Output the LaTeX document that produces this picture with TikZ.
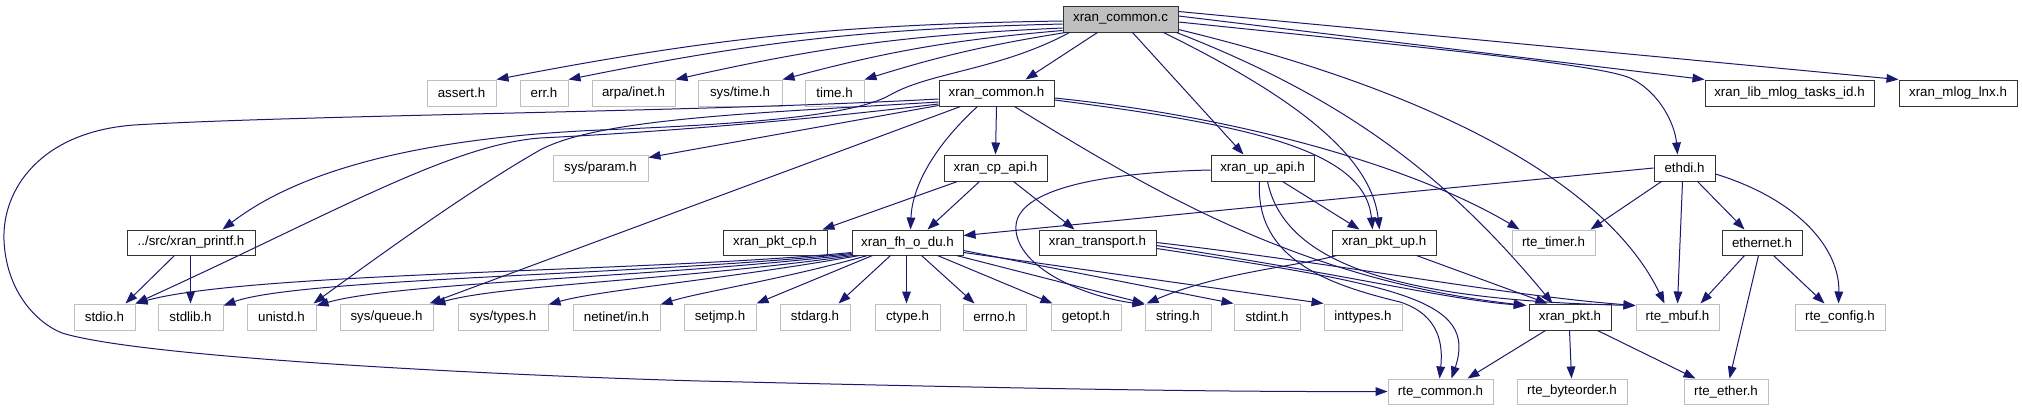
\documentclass[tikz,border=0pt]{standalone}
\usepackage{fontspec}
\setmainfont{Liberation Sans}
\usetikzlibrary{arrows.meta,calc}
\definecolor{edgec}{HTML}{191970}
\definecolor{greyb}{HTML}{BFBFBF}
\newcommand\hnode[7]{\node[#6, minimum width={(#3-#2)*0.75pt}, minimum height={(#5-#4)*0.75pt}] (#1) at ({(#2+#3)/2},{(#4+#5)/2}) {#7};}
\begin{document}
\begin{tikzpicture}[x=0.75pt,y=-0.75pt,
  box/.style={draw=black!80, line width=0.75pt, inner sep=0pt, font=\fontsize{10}{12}\selectfont},
  sysbox/.style={box, draw=greyb},
  rootbox/.style={box, fill=greyb},
  edge/.style={draw=edgec, line width=0.75pt, -{Triangle[length=9pt,width=6.5pt,fill=edgec]}}]
\fill[white] (0,0) rectangle (2022,411);
\useasboundingbox (0,0) rectangle (2022,411);
% row 0
\hnode{c}{1063}{1178}{6}{32}{rootbox}{xran\_common.c}
% row 1
\hnode{assert}{427}{496}{80}{106}{sysbox}{assert.h}
\hnode{err}{520}{568}{80}{106}{sysbox}{err.h}
\hnode{arpa}{592}{675}{80}{106}{sysbox}{arpa/inet.h}
\hnode{systime}{698}{782}{80}{106}{sysbox}{sys/time.h}
\hnode{time}{805}{864}{80}{106}{sysbox}{time.h}
\hnode{ch}{939}{1054}{80}{106}{box}{xran\_common.h}
\hnode{mlogtasks}{1705}{1874}{80}{106}{box}{xran\_lib\_mlog\_tasks\_id.h}
\hnode{mloglnx}{1899}{2017}{80}{106}{box}{xran\_mlog\_lnx.h}
% row 2
\hnode{sysparam}{553}{648}{155}{181}{sysbox}{sys/param.h}
\hnode{cpapi}{944}{1047}{155}{181}{box}{xran\_cp\_api.h}
\hnode{upapi}{1211}{1314}{155}{181}{box}{xran\_up\_api.h}
\hnode{ethdi}{1654}{1715}{155}{181}{box}{ethdi.h}
% row 3
\hnode{printf}{127}{255}{230}{255}{box}{../src/xran\_printf.h}
\hnode{pktcp}{723}{827}{230}{255}{box}{xran\_pkt\_cp.h}
\hnode{fhodu}{852}{963}{230}{255}{box}{xran\_fh\_o\_du.h}
\hnode{transport}{1039}{1156}{230}{255}{box}{xran\_transport.h}
\hnode{pktup}{1332}{1436}{230}{255}{box}{xran\_pkt\_up.h}
\hnode{rtetimer}{1512}{1595}{230}{255}{sysbox}{rte\_timer.h}
\hnode{ethernet}{1722}{1802}{230}{255}{box}{ethernet.h}
% row 4
\hnode{stdio}{74}{135}{304}{330}{sysbox}{stdio.h}
\hnode{stdlib}{158}{223}{304}{330}{sysbox}{stdlib.h}
\hnode{unistd}{247}{316}{304}{330}{sysbox}{unistd.h}
\hnode{sysqueue}{340}{433}{304}{330}{sysbox}{sys/queue.h}
\hnode{systypes}{458}{548}{304}{330}{sysbox}{sys/types.h}
\hnode{netinet}{573}{660}{304}{330}{sysbox}{netinet/in.h}
\hnode{setjmp}{684}{756}{304}{330}{sysbox}{setjmp.h}
\hnode{stdarg}{780}{850}{304}{330}{sysbox}{stdarg.h}
\hnode{ctype}{875}{940}{304}{330}{sysbox}{ctype.h}
\hnode{errno}{963}{1026}{304}{330}{sysbox}{errno.h}
\hnode{getopt}{1051}{1121}{304}{330}{sysbox}{getopt.h}
\hnode{string}{1145}{1211}{304}{330}{sysbox}{string.h}
\hnode{stdint}{1234}{1300}{304}{330}{sysbox}{stdint.h}
\hnode{inttypes}{1324}{1402}{304}{330}{sysbox}{inttypes.h}
\hnode{pkt}{1529}{1611}{304}{330}{box}{xran\_pkt.h}
\hnode{mbuf}{1636}{1719}{304}{330}{sysbox}{rte\_mbuf.h}
\hnode{config}{1795}{1885}{304}{330}{sysbox}{rte\_config.h}
% row 5
\hnode{rtecommon}{1388}{1493}{379}{404}{sysbox}{rte\_common.h}
\hnode{byteorder}{1517}{1627}{379}{404}{sysbox}{rte\_byteorder.h}
\hnode{ether}{1684}{1768}{379}{404}{sysbox}{rte\_ether.h}

% ---- edges from xran_common.c
\draw[edge] ($(c.west)+(0,2)$) to[bend right=5] (assert.north east);
\draw[edge] ($(c.west)+(0,5)$) to[bend right=5] (err.north east);
\draw[edge] ($(c.west)+(0,9)$) to[bend right=5] (arpa.north east);
\draw[edge] ($(c.south west)+(0,-2)$) to[bend right=5] (systime.north east);
\draw[edge] ($(c.south west)+(3,0)$) to[bend right=4] (time.north east);
\draw[edge] ($(c.south west)+(35,0)$) -- ($(ch.north east)+(-29,0)$);
\draw[edge] ($(c.south west)+(7,0)$) .. controls (1000,70) and (930,72) .. (890,95) .. controls (850,118) and (720,125) .. (600,130) .. controls (420,138) and (300,170) .. ($(printf.north west)+(96,0)$);
\draw[edge] ($(c.south west)+(70,0)$) -- ($(upapi.north west)+(33,0)$);
\draw[edge] ($(c.south east)+(-15,0)$) .. controls (1280,90) and (1370,150) .. ($(pktup.north west)+(48,0)$);
\draw[edge] ($(c.south east)+(-2,0)$) .. controls (1350,100) and (1450,180) .. ($(pkt.north west)+(24,0)$);
\draw[edge] ($(c.south east)+(0,-3)$) .. controls (1450,95) and (1610,190) .. ($(mbuf.north west)+(29,0)$);
\draw[edge] ($(c.east)+(0,3)$) .. controls (1450,50) and (1600,65) .. (1630,78) .. controls (1660,92) and (1675,125) .. ($(ethdi.north)+(-7,0)$);
\draw[edge] ($(c.east)+(0,-3)$) -- (mlogtasks.north west);
\draw[edge] ($(c.north east)+(0,6)$) -- (mloglnx.north west);

% ---- edges from xran_common.h
\draw[edge] ($(ch.west)+(0,11)$) .. controls (780,123) and (640,133) .. (540,138) .. controls (450,145) and (330,215) .. (stdio.north east);
\draw[edge] ($(ch.west)+(0,9)$) .. controls (760,113) and (600,118) .. (540,150) .. controls (470,190) and (380,255) .. ($(unistd.north east)+(-3,0)$);
\draw[edge] ($(ch.west)+(0,6)$) .. controls (700,112) and (300,115) .. (134,125) .. controls (40,132) and (2,190) .. (4,240) .. controls (6,290) and (35,322) .. (62,333) .. controls (150,360) and (550,377) .. (700,381) .. controls (1000,388) and (1200,392) .. (rtecommon.west);
\draw[edge] ($(ch.south west)+(0,-1)$) -- ($(sysparam.north east)+(0,3)$);
\draw[edge] ($(ch.south west)+(22,0)$) -- ($(sysqueue.north east)+(-4,0)$);
\draw[edge] ($(ch.south west)+(39,0)$) .. controls (930,150) and (912,190) .. ($(fhodu.north)+(3,0)$);
\draw[edge] (ch.south) -- (cpapi.north);
\draw[edge] ($(ch.south east)+(-40,0)$) .. controls (1150,190) and (1300,280) .. ($(pkt.north west)+(-2,2)$);
\draw[edge] ($(ch.east)+(0,7)$) .. controls (1250,125) and (1365,150) .. ($(pktup.north west)+(41,0)$);
\draw[edge] ($(ch.east)+(0,5)$) .. controls (1250,118) and (1420,170) .. ($(rtetimer.north west)+(8,0)$);

% ---- ../src/xran_printf.h
\draw[edge] ($(printf.south west)+(48,0)$) -- ($(stdio.north east)+(-10,0)$);
\draw[edge] ($(printf.south west)+(64,0)$) -- ($(stdlib.north west)+(33,0)$);

% ---- xran_cp_api.h
\draw[edge] ($(cpapi.south west)+(14,0)$) -- ($(pktcp.north east)+(-5,0)$);
\draw[edge] ($(cpapi.south west)+(36,0)$) -- ($(fhodu.north)+(20,0)$);
\draw[edge] ($(cpapi.south west)+(70,0)$) -- ($(transport.north west)+(36,0)$);

% ---- xran_up_api.h
\draw[edge] ($(upapi.south west)+(72,0)$) -- ($(pktup.north west)+(28,0)$);
\draw[edge] ($(upapi.west)+(0,2)$) .. controls (1120,172) and (1020,185) .. (1016,225) .. controls (1013,265) and (1080,296) .. ($(string.north west)+(0,1)$);
\draw[edge] ($(upapi.south west)+(49,0)$) .. controls (1255,260) and (1330,285) .. (1400,302) .. controls (1440,315) and (1443,345) .. ($(rtecommon.north west)+(52,0)$);
\draw[edge] ($(upapi.south west)+(57,0)$) .. controls (1285,265) and (1400,300) .. ($(mbuf.north west)+(0,2)$);

% ---- xran_transport.h
\draw[edge] (transport.east) .. controls (1350,265) and (1500,295) .. ($(mbuf.north west)+(0,2)$);
\draw[edge] ($(transport.east)+(0,3)$) .. controls (1350,275) and (1450,300) .. ($(pkt.north west)+(-3,2)$);
\draw[edge] ($(transport.east)+(0,6)$) .. controls (1400,285) and (1478,300) .. ($(rtecommon.north west)+(64,0)$);

% ---- xran_pkt_up.h
\draw[edge] ($(pktup.south west)+(85,0)$) -- ($(pkt.north west)+(19,0)$);
\draw[edge] ($(pktup.south west)+(5,0)$) .. controls (1300,266) and (1220,272) .. ($(string.north west)+(2,0)$);

% ---- xran_fh_o_du.h
\draw[edge] ($(fhodu.south west)+(0,-3)$) .. controls (650,272) and (250,272) .. (stdio.north east);
\draw[edge] ($(fhodu.south west)+(0,-2)$) .. controls (650,275) and (300,278) .. ($(stdlib.north east)+(0,2)$);
\draw[edge] ($(fhodu.south west)+(1,-1)$) .. controls (650,278) and (400,282) .. ($(unistd.north east)+(0,2)$);
\draw[edge] ($(fhodu.south west)+(2,0)$) .. controls (680,280) and (500,285) .. ($(sysqueue.north east)+(0,1)$);
\draw[edge] ($(fhodu.south west)+(8,0)$) .. controls (720,280) and (600,290) .. ($(systypes.north east)+(0,1)$);
\draw[edge] ($(fhodu.south west)+(16,0)$) .. controls (780,280) and (700,292) .. ($(netinet.north east)+(0,1)$);
\draw[edge] ($(fhodu.south west)+(21,0)$) -- (setjmp.north east);
\draw[edge] ($(fhodu.south west)+(39,0)$) -- ($(stdarg.north east)+(-12,0)$);
\draw[edge] ($(fhodu.south west)+(55,0)$) -- ($(ctype.north west)+(32,0)$);
\draw[edge] ($(fhodu.south west)+(70,0)$) -- ($(errno.north west)+(12,0)$);
\draw[edge] ($(fhodu.south west)+(86,0)$) -- ($(getopt.north west)+(2,0)$);
\draw[edge] ($(fhodu.south east)+(-7,0)$) -- (string.north west);
\draw[edge] ($(fhodu.east)+(0,8)$) -- (stdint.north west);
\draw[edge] ($(fhodu.east)+(0,10)$) -- (inttypes.north west);

% ---- ethdi.h
\draw[edge] (ethdi.west) -- ($(fhodu.east)+(0,-7)$);
\draw[edge] ($(ethdi.south west)+(8,0)$) -- ($(rtetimer.north east)+(-5,0)$);
\draw[edge] ($(ethdi.south west)+(29,0)$) -- ($(mbuf.north west)+(42,0)$);
\draw[edge] ($(ethdi.south west)+(44,0)$) -- ($(ethernet.north west)+(23,0)$);
\draw[edge] ($(ethdi.east)+(0,6)$) .. controls (1800,200) and (1840,250) .. ($(config.north west)+(44,0)$);

% ---- ethernet.h
\draw[edge] ($(ethernet.south west)+(23,0)$) -- ($(mbuf.north east)+(-19,0)$);
\draw[edge] ($(ethernet.south west)+(37,0)$) -- ($(ether.north west)+(46,0)$);
\draw[edge] ($(ethernet.south west)+(52,0)$) -- ($(config.north west)+(30,0)$);

% ---- xran_pkt.h
\draw[edge] ($(pkt.south west)+(17,0)$) -- ($(rtecommon.north west)+(80,0)$);
\draw[edge] ($(pkt.south west)+(41,0)$) -- ($(byteorder.north west)+(55,0)$);
\draw[edge] ($(pkt.south west)+(69,0)$) -- ($(ether.north west)+(12,0)$);
\end{tikzpicture}
\end{document}
